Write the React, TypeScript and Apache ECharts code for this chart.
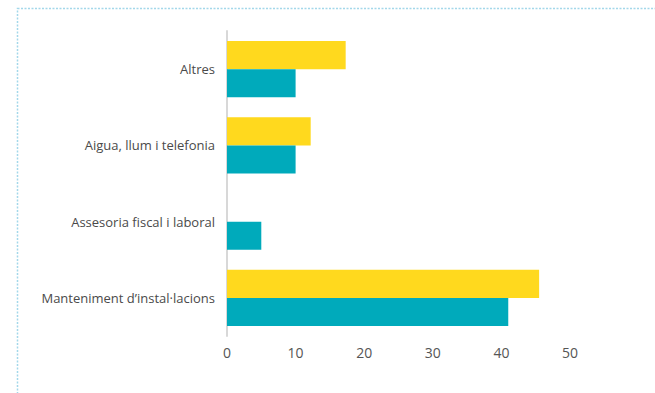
import React, { useEffect, useRef } from "react";
import * as echarts from "echarts";

const categories = [
  "Manteniment d’instal·lacions",
  "Assesoria fiscal i laboral",
  "Aigua, llum i telefonia",
  "Altres",
];
const yellowValues = [45.5, 0, 12.2, 17.3];
const tealValues = [41, 5, 10, 10];
const xTicks = { min: 0, max: 50, interval: 10 };

export default function App() {
  const ref = useRef<HTMLDivElement>(null);
  useEffect(() => {
    if (!ref.current) return;
    const chart = echarts.init(ref.current, null, { renderer: "svg" });
    chart.setOption({
      animation: false,
      graphic: [
        {
          type: "rect",
          shape: { x: 17.5, y: 8.5, width: 700, height: 450 },
          style: { fill: "none", stroke: "#a3d8ea", lineWidth: 1.5, lineDash: [2, 1.5] },
          silent: true,
        },
      ],
      grid: { left: 227, right: 85, top: 31, bottom: 57, containLabel: false },
      xAxis: {
        type: "value",
        min: xTicks.min,
        max: xTicks.max,
        interval: xTicks.interval,
        splitLine: { show: false },
        axisLine: { show: false },
        axisTick: { show: false },
        axisLabel: { color: "#555", fontSize: 14, fontFamily: "Open Sans", margin: 9 },
      },
      yAxis: {
        type: "category",
        data: categories,
        axisLine: { show: true, lineStyle: { color: "#d8d8d8", width: 2 } },
        axisTick: { show: false },
        axisLabel: { color: "#4a4a4a", fontSize: 13, fontFamily: "Open Sans", margin: 12 },
      },
      series: [
        {
          type: "bar",
          data: yellowValues,
          itemStyle: { color: "#ffd91e" },
          barGap: "0%",
          barCategoryGap: "26%",
        },
        {
          type: "bar",
          data: tealValues,
          itemStyle: { color: "#00aabb" },
          barGap: "0%",
          barCategoryGap: "26%",
        },
      ],
    });
    return () => chart.dispose();
  }, []);
  return (
    <div
      ref={ref}
      style={{ position: "absolute", left: 0, top: 0, width: 655, height: 393, background: "#fff" }}
    />
  );
}
